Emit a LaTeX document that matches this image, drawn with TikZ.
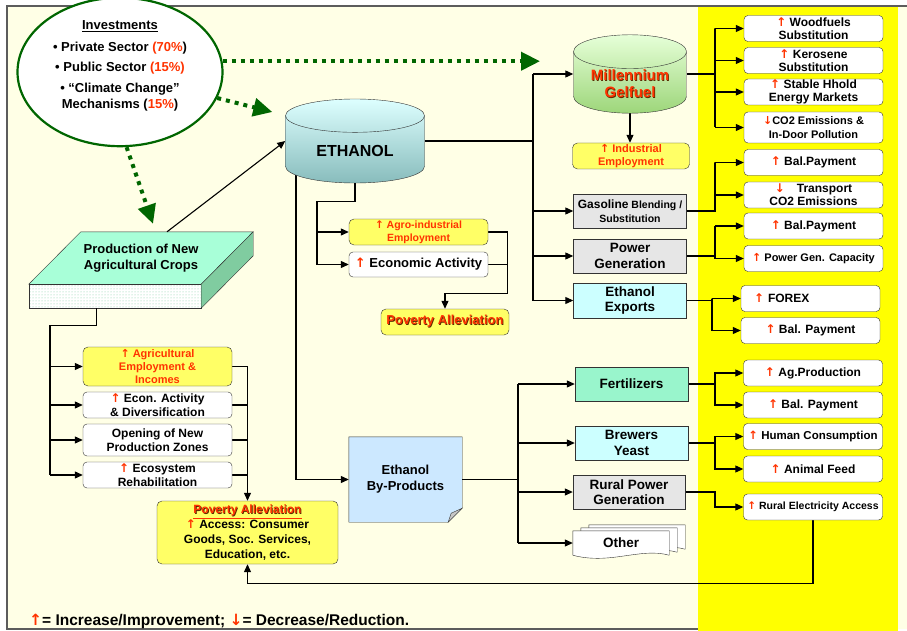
\documentclass[tikz,border=0pt]{standalone}
\usepackage{fontspec}
\setmainfont{Liberation Sans}
\newfontfamily\arrowfont{DejaVu Sans}
\usetikzlibrary{arrows.meta,backgrounds,calc,positioning,shapes.geometric,patterns}
\definecolor{Cream}{HTML}{FFFFE6}
\definecolor{Panel}{HTML}{FFFF00}
\definecolor{Border}{HTML}{333333}
\definecolor{RedTxt}{HTML}{FF3300}
\definecolor{Shade}{HTML}{5A2A00}
\definecolor{DkGreen}{HTML}{006600}
\definecolor{BoxYellow}{HTML}{FFFF66}
\definecolor{GrayBox}{HTML}{E6E6E6}
\definecolor{CyanBox}{HTML}{CCFFFF}
\definecolor{FertGreen}{HTML}{99F5CC}
\definecolor{ByBlue}{HTML}{CCE8FF}
\definecolor{Mint}{HTML}{A8FFD8}
\definecolor{MintDark}{HTML}{80CCA0}
\definecolor{EthTop}{HTML}{DDFFFF}
\definecolor{EthBot}{HTML}{88BCBC}
\definecolor{GelTop}{HTML}{E6FFD8}
\definecolor{GelBot}{HTML}{9DD67A}
\newcommand{\incr}{\textcolor{RedTxt}{\arrowfont\bfseries ↑}}
\newcommand{\decr}{\textcolor{RedTxt}{\arrowfont\bfseries ↓}}
\newcommand{\redshade}[1]{\makebox[0pt][l]{\hspace{0.8pt}\raisebox{-0.8pt}{\textcolor{Shade}{#1}}}\textcolor{RedTxt}{#1}}

\begin{document}
\begin{tikzpicture}[x=1pt,y=-1pt,
      every node/.style={font=\fontsize{12}{13}\selectfont\bfseries,align=center,inner sep=1pt},
      outbox/.style={draw=Border,fill=white,rounded corners=4pt,minimum width=139pt,
                     minimum height=26pt,inner ysep=0pt},
      yelbox/.style={draw=Border,fill=BoxYellow,rounded corners=5pt,inner ysep=0pt},
      sqbox/.style={draw=Border,minimum width=113pt,minimum height=34pt,
                    font=\fontsize{13.5}{15.5}\selectfont\bfseries},
      tank/.style={cylinder,shape border rotate=90,shape aspect=0.42,draw=Border,
                   anchor=shape center},
      greenflow/.style={DkGreen,line width=4pt,dash pattern=on 4pt off 5pt,
                        -{Triangle[length=19pt,width=18pt]}},
      link/.style={line width=1.1pt},
      >={Triangle[length=8pt,width=7pt]}
    ]
      \useasboundingbox (0,0) rectangle (907,631);
      \begin{scope}[on background layer]
        \fill[Cream] (7,6) rectangle (907,629);
        \draw[Border!80,line width=1.5pt] (907,6) -- (7,6) -- (7,629) -- (698,629);
        \fill[Panel] (698,7) rectangle (898,631);
      \end{scope}

      % investments
      \node[ellipse,draw=DkGreen,line width=2.2pt,fill=white,minimum width=205pt,
            minimum height=129pt,font=\fontsize{13}{15}\selectfont\bfseries] (invest)
            at (120,72)
        {\underline{Investments}\\[7pt]
         • Private Sector \textcolor{RedTxt}{(70\%})\\[5pt]
         • Public Sector \textcolor{RedTxt}{(15\%)}\\[6pt]
         • “Climate Change”\\[1pt]
         Mechanisms (\textcolor{RedTxt}{15\%})\\~};

      % tanks
      \node[tank,top color=EthTop,bottom color=EthBot,minimum width=139pt,minimum height=84pt,
            font=\fontsize{16}{18}\selectfont\bfseries] (ethanol) at (355,141) {ETHANOL};
      \node[tank,top color=GelTop,bottom color=GelBot,minimum width=113pt,minimum height=78pt,
            font=\fontsize{15}{17}\selectfont\bfseries] (gelfuel) at (630,74)
            {\redshade{Millennium}\\\redshade{Gelfuel}};
      \coordinate (ethin) at (ethanol.shape center -| ethanol.west);
      \coordinate (ethout) at (ethanol.shape center -| ethanol.east);
      \coordinate (gelin) at (gelfuel.shape center -| gelfuel.west);
      \coordinate (gelout) at (gelfuel.shape center -| gelfuel.east);
      \node[yelbox,minimum width=117pt,minimum height=26pt,text=RedTxt,
            font=\fontsize{11}{12.5}\selectfont\bfseries] (indemp) at (631,156)
            {\incr\ Industrial\\Employment};

      \node[sqbox,fill=GrayBox,font=\fontsize{10.5}{13.5}\selectfont\bfseries] (gasoline)
            at (630,211) {{\fontsize{12}{13.5}\selectfont Gasoline} Blending /\\Substitution};
      \node[sqbox,fill=GrayBox] (power) at (630,256) {Power\\Generation};
      \node[sqbox,fill=CyanBox,minimum height=35pt] (exports) at (630,300.5) {Ethanol\\Exports};

      % effects
      \node[outbox] (w1) at (813.5,28.5) {\incr\ Woodfuels\\Substitution};
      \node[outbox] (w2) at (813.5,60.5) {\incr\ Kerosene\\Substitution};
      \node[outbox] (w3) at (813.5,92) {\incr\ Stable Hhold\\Energy Markets};
      \node[outbox,minimum height=31pt,font=\fontsize{11}{14}\selectfont\bfseries] (w4)
            at (813.5,127.5) {\decr CO2 Emissions \&\\In-Door Pollution};
      \node[outbox] (g1) at (813.5,162.5) {\incr\ Bal.Payment};
      \node[outbox] (g2) at (813.5,195) {\decr\quad Transport\\CO2 Emissions};
      \node[outbox] (p1) at (813.5,226) {\incr\ Bal.Payment};
      \node[outbox,font=\fontsize{11}{12}\selectfont\bfseries] (p2) at (813.5,258.5)
            {\incr\ Power Gen. Capacity};
      \node[outbox,text width=113pt,align=left] (e1) at (810.5,298.5) {\incr\ FOREX};
      \node[outbox] (e2) at (810.5,330.5) {\incr\ Bal. Payment};
      \node[outbox] (f1) at (813,373) {\incr\ Ag.Production};
      \node[outbox] (f2) at (813,405) {\incr\ Bal. Payment};
      \node[outbox,font=\fontsize{11.5}{12}\selectfont\bfseries] (y1) at (813,436.5)
            {\incr\ Human Consumption};
      \node[outbox] (y2) at (813,469) {\incr\ Animal Feed};
      \node[outbox,font=\fontsize{10.5}{12}\selectfont\bfseries] (relec) at (813,507)
            {\incr\ Rural Electricity Access};

      % by-products
      \node[minimum width=113pt,minimum height=85pt,font=\fontsize{13}{16}\selectfont\bfseries]
            (byprod) at (405.5,479.5) {Ethanol\\By-Products};
      \node[sqbox,fill=FertGreen] (fert) at (631.5,384) {Fertilizers};
      \node[sqbox,fill=CyanBox] (yeast) at (631.5,443) {Brewers\\Yeast};
      \node[sqbox,fill=GrayBox,minimum width=112pt] (rpower) at (629,492) {Rural Power\\Generation};
      \node[minimum width=96pt,minimum height=24pt,font=\fontsize{13.5}{15}\selectfont\bfseries]
            (other) at (621,543) {Other};

      \node[yelbox,minimum width=139pt,minimum height=26pt,text=RedTxt,
            font=\fontsize{10.5}{12.5}\selectfont\bfseries] (agroemp) at (418.5,232)
            {\incr\ Agro-industrial\\Employment};
      \node[outbox,minimum height=25pt,font=\fontsize{13}{14}\selectfont\bfseries] (econact)
            at (418.5,264.5) {\incr\ Economic Activity};
      \node[yelbox,minimum width=128pt,minimum height=26pt,
            font=\fontsize{13}{14}\selectfont\bfseries] (povsmall) at (445,322)
            {\redshade{Poverty Alleviation}};

      % crops
      \node[minimum width=224pt,minimum height=52pt,font=\fontsize{13}{16}\selectfont\bfseries]
            (crops) at (141,258) {Production of New\\Agricultural Crops};
      \node[yelbox,minimum width=149pt,minimum height=39pt,text=RedTxt,
            font=\fontsize{11}{13}\selectfont\bfseries] (c1) at (157.5,366.5)
            {\incr\ Agricultural\\Employment \&\\Incomes};
      \node[outbox,minimum width=149pt,font=\fontsize{12}{14}\selectfont\bfseries] (c2)
            at (157.5,405) {\incr\ Econ. Activity\\\& Diversification};
      \node[outbox,minimum width=149pt,minimum height=32pt,
            font=\fontsize{12}{14.5}\selectfont\bfseries] (c3) at (157.5,440)
            {Opening of New\\Production Zones};
      \node[outbox,minimum width=149pt,font=\fontsize{12}{14}\selectfont\bfseries] (c4)
            at (157.5,475) {\incr\ Ecosystem\\Rehabilitation};
      \node[yelbox,minimum width=181pt,minimum height=63pt,
            font=\fontsize{12}{15}\selectfont\bfseries] (povbig) at (247.5,532.5)
            {\textcolor{RedTxt}{\underline{\redshade{Poverty Alleviation}}}\\
             \incr\ Access: Consumer\\Goods, Soc. Services,\\Education, etc.};

      \node[anchor=west,font=\fontsize{15.5}{17}\selectfont\bfseries] (legend) at (28,621)
            {\incr= Increase/Improvement; \decr= Decrease/Reduction.};

      \coordinate (cropstop) at ([xshift=26pt]crops.north);
      \coordinate (cropsfoot) at ([shift={(68,24)}]crops.south west);

      \begin{scope}[on background layer]
        % slab, sheet and documents
        \draw[Border,fill=Mint] ([xshift=52pt]crops.north west) -- (crops.north east)
          -- ([xshift=-52pt]crops.south east) -- (crops.south west) -- cycle;
        \draw[Border,preaction={fill=white},pattern=dots,pattern color=MintDark]
          (crops.south west) rectangle ([shift={(-52,24)}]crops.south east);
        \draw[Border,fill=MintDark] ([xshift=-52pt]crops.south east) -- (crops.north east)
          -- ([yshift=-24pt]crops.north east) -- ([shift={(-52,24)}]crops.south east) -- cycle;
        \draw[Border,fill=ByBlue] (byprod.north west) -- (byprod.north east)
          -- ([yshift=14pt]byprod.south east) -- ([xshift=-14pt]byprod.south east)
          -- (byprod.south west) -- cycle;
        \draw[Border,fill=gray!45] ([yshift=14pt]byprod.south east)
          -- ([shift={(-11,-9)}]byprod.south east) -- ([xshift=-14pt]byprod.south east) -- cycle;
        \foreach \dx/\dy in {16/-6,8/-3,0/0}
          \draw[Border,fill=white] ([shift={(\dx,\dy)}]other.north west)
            -- ([shift={(\dx,\dy)}]other.north east) -- ([shift={(\dx,\dy)}]other.south east)
            .. controls ([shift={(\dx-29,\dy-8)}]other.south east)
               and ([shift={(\dx-59,\dy+10)}]other.south east)
            .. ([shift={(\dx,\dy)}]other.south west) -- cycle;

        % ethanol uses
        \draw[link] (ethout) -- (533,0 |- ethout);
        \draw[link] (533,0 |- gelin) -- (533,0 |- exports.west);
        \draw[link,->] (533,0 |- gelin) -- (gelin);
        \foreach \nodeName in {gasoline,power,exports}
          \draw[link,->] (533,0 |- \nodeName.west) -- (\nodeName.west);
        \draw[link,->] (gelfuel.south) -- (gelfuel.south |- indemp.north);

        \draw[link] (gelout) -| (715,0 |- w1.west) -- (715,0 |- w4.west);
        \foreach \src/\first/\last/\xx in {gasoline/g1/g2/715,power/p1/p2/715,
                 exports/e1/e2/712,fert/f1/f2/715,yeast/y1/y2/715}
          \draw[link] (\src.east) -| (\xx,0 |- \first.west) -- (\xx,0 |- \last.west);
        \foreach \nodeName in {w1,w2,w3,w4,g1,g2,p1,p2,e1,e2,f1,f2,y1,y2}
          \draw[link,<-] (\nodeName.west) -- ++(-29,0);
        \draw[link,->] (rpower.east) -| (715,0 |- relec.west) -- (relec.west);
        \draw[link,->] (relec.south) -- ++(0,63) -| (povbig.south);

        \draw[link] (ethanol.south) -- ++(0,18) -| (317,0 |- econact.west);
        \foreach \nodeName in {agroemp,econact}
          \draw[link,->] (317,0 |- \nodeName.west) -- (\nodeName.west);
        \draw[link,->] (agroemp.east) -- ++(19,0) |- ($(povsmall.north)+(0,-15)$)
          -- (povsmall.north);
        \draw[link] (econact.east) -- ++(19,0);

        \draw[link,->] (296,0 |- ethin) |- (byprod.west);
        \draw[link] (byprod.east) -| (518,0 |- fert.west) -- (518,0 |- other.west);
        \foreach \nodeName in {fert,yeast,rpower,other}
          \draw[link,->] (518,0 |- \nodeName.west) -- (\nodeName.west);

        % crops
        \draw[link,->] (cropstop) -- (ethin);
        \draw[link] (cropsfoot) -- ++(0,17) -| (50,0 |- c4.west);
        \foreach \nodeName in {c1,c2,c3,c4}
          \draw[link,->] (50,0 |- \nodeName.west) -- (\nodeName.west);
        \foreach \nodeName in {c1,c2,c3,c4}
          \draw[link] (\nodeName.east) -- (povbig.north |- \nodeName.east);
        \draw[link,->] (povbig.north |- c1.east) -- (povbig.north);

        % investments
        \draw[greenflow] (invest.6) -- (540,0 |- invest.6);
        \draw[greenflow] (invest.-15) -- ($(ethin)+(-13,-29)$);
        \draw[greenflow] (invest.-85) -- ($(cropstop)+(-14,-8)$);
      \end{scope}
    \end{tikzpicture}
\end{document}
